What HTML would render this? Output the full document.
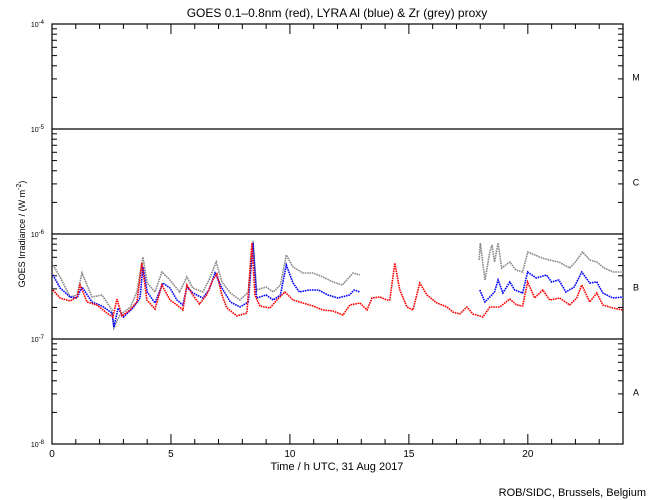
<!DOCTYPE html>
<html><head><meta charset="utf-8"><style>
body{margin:0;background:#fff}
svg{display:block;font-family:"Liberation Sans",sans-serif}
</style></head><body>
<svg id="chart" width="650" height="500">
<text x="337" y="17" font-size="12" text-anchor="middle">GOES 0.1–0.8nm (red), LYRA Al (blue) &amp; Zr (grey) proxy</text>
<rect x="52" y="24" width="571" height="420" fill="none" stroke="#000" stroke-width="1.2"/>
<g id="axes"></g>
<g id="series"></g>
<text x="337" y="470" font-size="11" text-anchor="middle">Time / h UTC, 31 Aug 2017</text>
<text transform="translate(25,234) rotate(-90)" font-size="9" text-anchor="middle">GOES Irradiance / (W m<tspan dy="-4" font-size="7">-2</tspan><tspan dy="4">)</tspan></text>
<text x="646" y="496" font-size="11" text-anchor="end">ROB/SIDC, Brussels, Belgium</text>
</svg>
<script>
const redT=[0.04,0.34,0.76,1.05,1.18,1.47,1.89,2.3,2.56,2.73,2.94,3.28,3.57,3.78,3.99,4.33,4.62,4.96,5.25,5.5,5.67,5.92,6.2,6.5,6.76,6.93,7.14,7.35,7.77,8.19,8.4,8.53,8.74,9.16,9.45,9.79,10.13,10.55,10.97,11.39,11.81,12.23,12.52,12.94,13.24,13.45,13.78,14.08,14.2,14.41,14.62,14.92,15.17,15.46,15.76,16.18,16.6,16.85,17.14,17.44,17.69,18.11,18.4,18.82,19.24,19.53,19.78,19.99,20.29,20.63,20.92,21.34,21.76,22.06,22.27,22.6,22.9,23.15,23.57,24];
const redY=[290,298,301,297,285,302,305,313,317,299,316,310,302,263,300,309,285,300,305,310,285,295,304,295,280,274,295,308,316,313,243,295,306,308,300,292,300,303,306,310,311,315,305,303,310,298,297,300,300,263,290,307,310,283,295,303,307,312,314,307,314,317,307,307,299,305,306,282,298,290,300,298,305,298,285,302,293,305,308,310];
const blueT=[0.04,0.34,0.76,1.05,1.26,1.68,2.1,2.52,2.6,2.78,3.0,3.4,3.7,3.82,4.0,4.33,4.66,4.96,5.25,5.5,5.67,5.92,6.34,6.6,6.85,7.14,7.5,7.9,8.25,8.45,8.6,9.0,9.3,9.6,9.85,10.13,10.4,10.8,11.2,11.6,12.02,12.5,12.7,12.94];
const blueY=[275,288,297,298,287,302,306,313,327,308,317,308,298,267,292,303,283,288,300,305,287,293,298,290,273,288,302,307,302,243,298,295,300,295,265,283,292,290,290,295,298,295,290,292];
const blue2T=[17.98,18.2,18.4,18.6,18.75,18.95,19.24,19.45,19.78,19.99,20.35,20.78,21.0,21.3,21.6,21.95,22.27,22.6,22.9,23.15,23.57,24];
const blue2Y=[290,302,297,292,280,293,282,290,293,272,278,275,282,280,292,287,272,283,282,293,298,297];
const greyT=[0.04,0.34,0.76,1.05,1.26,1.68,2.1,2.52,2.6,2.85,3.3,3.57,3.82,4.0,4.33,4.62,4.96,5.36,5.67,5.92,6.34,6.6,6.9,7.14,7.5,7.9,8.25,8.45,8.6,9.0,9.3,9.6,9.85,10.13,10.55,10.97,11.39,11.81,12.2,12.65,12.94];
const greyY=[265,277,297,295,273,297,295,310,328,315,307,292,257,283,292,272,280,292,277,288,292,280,262,282,293,300,292,241,290,287,292,285,255,267,273,273,277,282,285,273,275];
const grey2T=[17.95,18.0,18.2,18.4,18.5,18.6,18.75,18.9,19.24,19.5,19.78,20.0,20.3,20.6,20.9,21.3,21.76,22.0,22.3,22.6,22.9,23.2,23.6,24];
const grey2Y=[260,243,280,252,245,262,243,268,262,270,272,252,255,258,260,262,268,262,252,260,262,268,272,272];
const xTickLabels=["0","5","10","15","20"];
const decadeLabels=["-4","-5","-6","-7","-8"];
const classLabels=["M","C","B","A"];
const X0=52,X1=623,Y0=24,DEC=105;
const xs=t=>X0+(X1-X0)*t/24;
const ys=lg=>Y0+(-4-lg)*DEC;
const toLog=py=>-7+(339-py)/DEC;
const NS="http://www.w3.org/2000/svg";
const ax=document.getElementById('axes'),se=document.getElementById('series');
function mk(tag,at,p){const e=document.createElementNS(NS,tag);for(const k in at)e.setAttribute(k,at[k]);p.appendChild(e);return e;}
for(let d=-5;d>=-7;d--){const l=mk('line',{x1:X0,x2:X1,y1:ys(d),y2:ys(d),stroke:'#000','stroke-width':1.2},ax);

}
decadeLabels.forEach((lab,i)=>{const d=-4-i,y=ys(d);
const t=mk('text',{x:44,y:y+3,'font-size':7,'text-anchor':'end'},ax);t.textContent='10';
const s=mk('tspan',{dy:-3,'font-size':6},t);s.textContent=lab;


if(i<4){for(let m=2;m<=9;m++){const yy=ys(d-1+Math.log10(m));
mk('line',{x1:X0,x2:X0+5,y1:yy,y2:yy,stroke:'#000'},ax);mk('line',{x1:X1-5,x2:X1,y1:yy,y2:yy,stroke:'#000'},ax);}}
mk('line',{x1:X0,x2:X0+10,y1:y,y2:y,stroke:'#000'},ax);mk('line',{x1:X1-10,x2:X1,y1:y,y2:y,stroke:'#000'},ax);});
classLabels.forEach((c,i)=>{const t=mk('text',{x:636,y:ys(-4.5-i)+4,'font-size':9,'text-anchor':'middle'},ax);t.textContent=c;

});
for(let h=0;h<=24;h++){const x=xs(h),L=h%5==0?10:5;
mk('line',{x1:x,x2:x,y1:444,y2:444-L,stroke:'#000'},ax);mk('line',{x1:x,x2:x,y1:Y0,y2:Y0+L,stroke:'#000'},ax);}
xTickLabels.forEach(l=>{const t=mk('text',{x:xs(+l),y:457,'font-size':10,'text-anchor':'middle'},ax);t.textContent=l;

});
function draw(T,Y,col,name){const pts=T.map((t,i)=>xs(t).toFixed(1)+','+ys(toLog(Y[i])).toFixed(1)).join(' ');
const p=mk('polyline',{points:pts,fill:'none',stroke:col,'stroke-width':1.6,'stroke-dasharray':'1.6 0.8'},se);

}
draw(greyT,greyY,'#888','zr-proxy-series');
draw(grey2T,grey2Y,'#888','zr-proxy-series-late');
draw(blueT,blueY,'#0000ff','lyra-al-series');
draw(blue2T,blue2Y,'#0000ff','lyra-al-series-late');
draw(redT,redY,'#ff0000','goes-xray-series');
</script>
</body></html>
